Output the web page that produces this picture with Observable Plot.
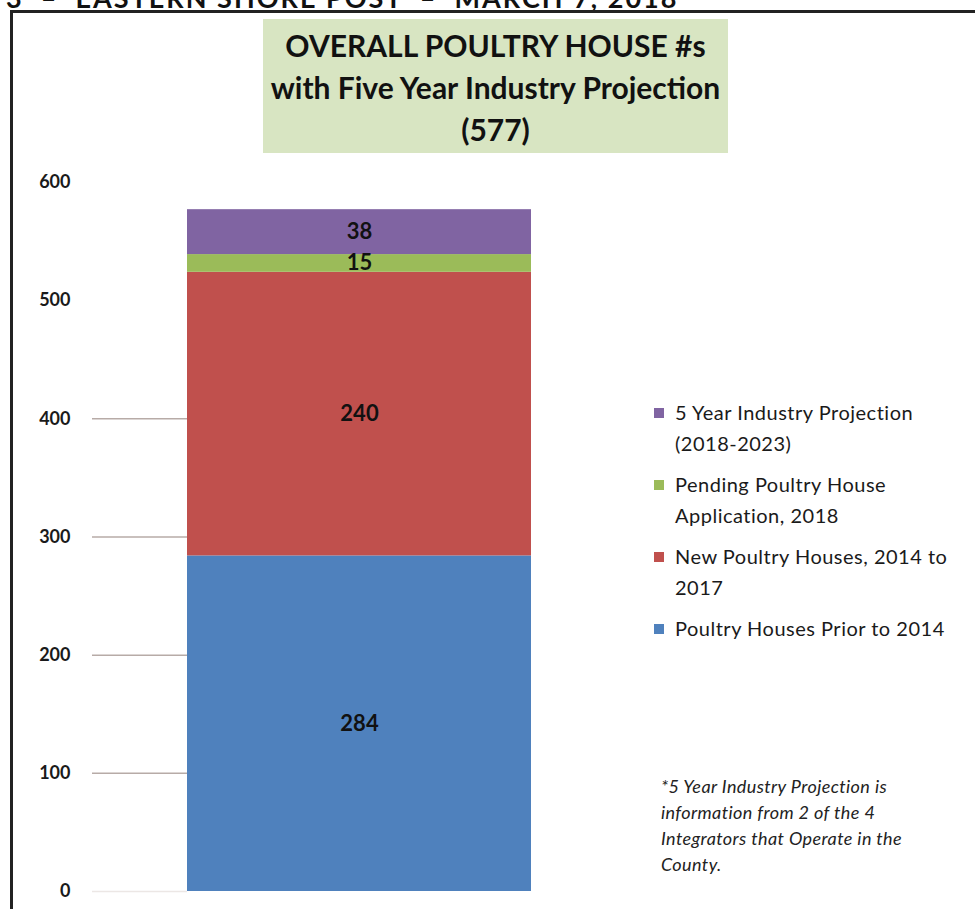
<!DOCTYPE html>
<html><head><meta charset="utf-8">
<script src="https://cdn.jsdelivr.net/npm/d3@7"></script>
<script src="https://cdn.jsdelivr.net/npm/@observablehq/plot@0.6"></script>
<style>
body{margin:0;background:#fff;font-family:Lato,"Open Sans",sans-serif;}
#wrap{position:relative;width:975px;height:909px;overflow:hidden;background:#fff;}
#wrap svg{position:absolute;left:0;top:0;}
.hdr{position:absolute;top:-19px;left:6px;font:bold 27px Lato,sans-serif;color:#111;white-space:pre;letter-spacing:2px;}
.bt{position:absolute;left:10px;top:10px;width:965px;height:3px;background:#222;}
.bl{position:absolute;left:10px;top:10px;width:3px;height:899px;background:#222;}
.title{position:absolute;left:263px;top:19px;width:465px;height:134px;background:#d8e5c2;text-align:center;font-weight:bold;font-size:30px;line-height:42px;color:#111;padding-top:5px;box-sizing:border-box;}
.legend{position:absolute;left:654px;top:397px;font-size:20px;letter-spacing:0.5px;color:#1a1a1a;}
.li{position:relative;padding-left:21px;line-height:31px;margin-bottom:10px;}
.sw{position:absolute;left:0;top:11px;width:10px;height:10px;}
.foot{position:absolute;left:661px;top:773px;font-style:italic;font-size:18px;letter-spacing:0.4px;line-height:26px;color:#222;}
</style></head><body><div id="wrap"></div>
<script>
// ---- data ----
const group = "Overall";
const series = [
  "Poultry Houses Prior to 2014",
  "New Poultry Houses, 2014 to 2017",
  "Pending Poultry House Application, 2018",
  "5 Year Industry Projection (2018-2023)"
];
const values = [284, 240, 15, 38];
const colors = ["#4f81bd", "#c0504d", "#9bbb59", "#8064a2"];
const legendOrder = [3, 2, 1, 0];
const legendLines = [
  ["Poultry Houses Prior to 2014"],
  ["New Poultry Houses, 2014 to", "2017"],
  ["Pending Poultry House", "Application, 2018"],
  ["5 Year Industry Projection", "(2018-2023)"]
];
const yTicks = [0, 100, 200, 300, 400, 500, 600];
const gridTicks = [100, 200, 300, 400];
const faintTicks = [0];
const titleLines = ["OVERALL POULTRY HOUSE #s", "with Five Year Industry Projection", "(577)"];
const footLines = ["*5 Year Industry Projection is", "information from 2 of the 4", "Integrators that Operate in the", "County."];
const headerText = "3  –  EASTERN SHORE POST  –  MARCH 7, 2018";

const data = series.map((s, i) => ({group, series: s, value: values[i]}));

const wrap = document.getElementById("wrap");
const hasAxisMarks = typeof Plot.axisY === "function";

const axisMarks = hasAxisMarks ? [
  Plot.axisY(faintTicks, {anchor: "left", tickSize: 95, tickFormat: () => "", stroke: "#ece7e5", strokeWidth: 1.5, strokeOpacity: 1, label: null}),
  Plot.axisY(gridTicks, {anchor: "left", tickSize: 95, tickFormat: () => "", stroke: "#b7aba7", strokeWidth: 1.5, strokeOpacity: 1, label: null}),
  Plot.axisY(yTicks, {anchor: "left", tickSize: 0, tickPadding: 117, tickFormat: d => String(d), fontSize: 18, fontWeight: "bold", fill: "#1a1a1a", label: null})
] : [];

const chart = Plot.plot({
  width: 975, height: 909,
  marginTop: 182, marginBottom: 18, marginLeft: 187, marginRight: 444,
  x: {type: "band", domain: [group], padding: 0, axis: null},
  y: hasAxisMarks
    ? {domain: [0, 600]}
    : {domain: [0, 600], axis: "left", ticks: yTicks, tickSize: 95, tickPadding: 22, label: null, tickFormat: d => String(d)},
  color: {domain: series, range: colors},
  style: {fontFamily: "Lato, 'Open Sans', sans-serif", background: "transparent", overflow: "visible"},
  marks: [
    ...axisMarks,
    Plot.barY(data, {x: "group", y: "value", fill: "series"}),
    Plot.text(data, Plot.stackY({x: "group", y: "value", z: "series", text: "value", fontSize: 22, fontWeight: "bold", fill: "#111"}))
  ]
});
wrap.appendChild(chart);

if (!hasAxisMarks) {
  d3.select(chart).selectAll(".tick").each(function(d) {
    const g = d3.select(this);
    g.select("text").attr("font-size", 18).style("font-size", "18px").attr("font-weight", "bold").attr("fill", "#1a1a1a");
    const line = g.select("line");
    if (gridTicks.includes(d)) line.attr("stroke", "#b7aba7").attr("stroke-width", 1.5);
    else if (faintTicks.includes(d)) line.attr("stroke", "#ece7e5").attr("stroke-width", 1.5);
    else line.attr("stroke", "none");
  });
}

const hdr = document.createElement("div");
hdr.className = "hdr"; hdr.textContent = headerText; wrap.appendChild(hdr);
const bt = document.createElement("div"); bt.className = "bt"; wrap.appendChild(bt);
const bl = document.createElement("div"); bl.className = "bl"; wrap.appendChild(bl);

const title = document.createElement("div");
title.className = "title";
title.innerHTML = titleLines.map(t => `<div>${t}</div>`).join("");
wrap.appendChild(title);

const legend = document.createElement("div");
legend.className = "legend";
legendOrder.forEach(i => {
  const li = document.createElement("div");
  li.className = "li";
  li.innerHTML = `<span class="sw" style="background:${colors[i]}"></span>` + legendLines[i].join("<br>");
  legend.appendChild(li);
});
wrap.appendChild(legend);

const foot = document.createElement("div");
foot.className = "foot";
foot.innerHTML = footLines.join("<br>");
wrap.appendChild(foot);
</script>
</body></html>
